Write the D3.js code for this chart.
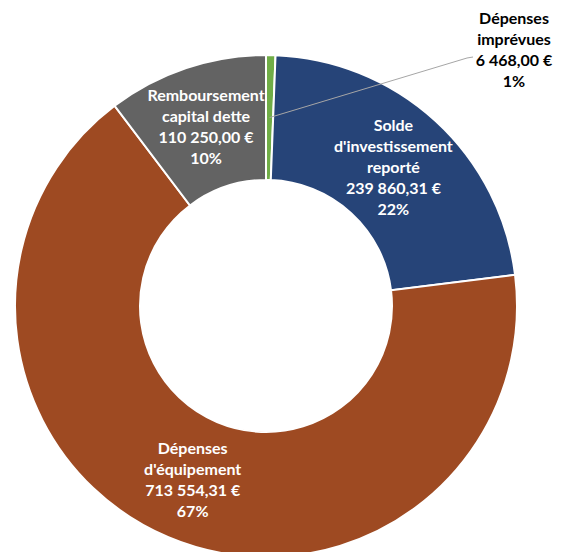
<!DOCTYPE html>
<html>
<head>
<meta charset="utf-8">
<script src="https://cdn.jsdelivr.net/npm/d3@7"></script>
<style>
  body { margin: 0; background: #fff; }
</style>
</head>
<body>
<div id="container"></div>
<script>
/* CONSTANTS AND GLOBALS */
const width = 568,
  height = 552,
  cx = 266,
  cy = 306,
  outerR = 251,
  innerR = 126,
  lineH = 21;

/* DATA */
const categories = [
  "Dépenses\nimprévues",
  "Solde\nd'investissement\nreporté",
  "Dépenses\nd'équipement",
  "Remboursement\ncapital dette"
];
const values = [6468.00, 239860.31, 713554.31, 110250.00];
const colors = ["#70AD47", "#264478", "#9E4A22", "#636363"];
const labelColors = ["#000", "#fff", "#fff", "#fff"];

// label of the thin slice was dragged outside, with a leader line
const outsideLabel = { index: 0, x: 514, y: 50 };

const fr = d3.formatLocale({ decimal: ",", thousands: " ", grouping: [3], currency: ["", " €"] });
const fmtMoney = fr.format("$,.2f");
const total = d3.sum(values);

const data = categories.map((c, i) => ({ name: c, value: values[i], i }));

const svg = d3.select("#container")
  .append("svg")
  .attr("width", width)
  .attr("height", height)
  .style("font-family", "Lato, 'Open Sans', sans-serif");

const g = svg.append("g").attr("transform", `translate(${cx},${cy})`);

const pie = d3.pie().sort(null).value(d => d.value);
const arc = d3.arc().innerRadius(innerR).outerRadius(outerR);
const arcs = pie(data);

g.selectAll("path.slice")
  .data(arcs)
  .join("path")
  .attr("class", "slice")
  .attr("d", arc)
  .attr("fill", d => colors[d.data.i])
  .attr("stroke", "#fff")
  .attr("stroke-width", 2);

// leader line for the outside label
const lead = arcs[outsideLabel.index];
const [lx, ly] = arc.centroid(lead);
svg.append("polyline")
  .attr("points", [
    [cx + lx, cy + ly],
    [outsideLabel.x - 47, outsideLabel.y + 8],
    [outsideLabel.x - 41, outsideLabel.y + 7]
  ].map(p => p.join(",")).join(" "))
  .attr("fill", "none")
  .attr("stroke", "#A6A6A6")
  .attr("stroke-width", 1);

/* LABELS */
arcs.forEach(d => {
  const lines = d.data.name.split("\n")
    .concat([fmtMoney(d.data.value), Math.round(d.data.value / total * 100) + "%"]);
  let x, y;
  if (d.data.i === outsideLabel.index) {
    x = outsideLabel.x; y = outsideLabel.y;
  } else {
    const c = arc.centroid(d);
    x = cx + c[0]; y = cy + c[1];
  }
  const t = svg.append("text")
    .attr("text-anchor", "middle")
    .attr("font-size", 16)
    .attr("font-weight", "bold")
    .attr("fill", labelColors[d.data.i]);
  lines.forEach((l, k) => {
    t.append("tspan")
      .attr("x", x)
      .attr("y", y + (k - (lines.length - 1) / 2) * lineH)
      .attr("dy", "0.35em")
      .text(l);
  });
});
</script>
</body>
</html>
